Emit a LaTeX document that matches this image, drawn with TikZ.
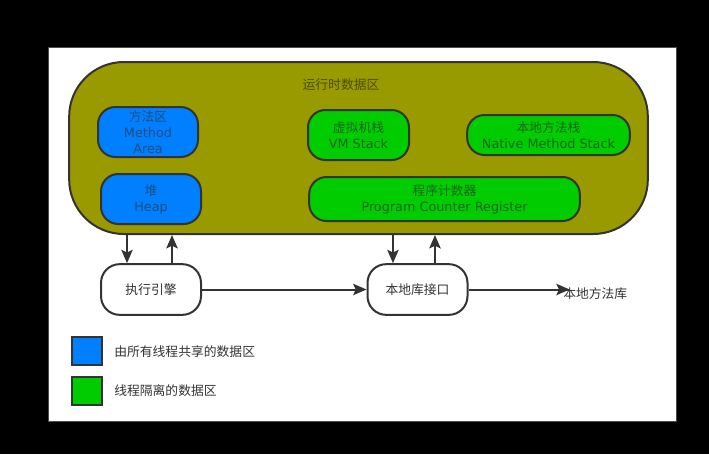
\documentclass[tikz,border=0pt]{standalone}
\usepackage{fontspec}
\setmainfont{DejaVu Sans}
\newfontfamily\cjk{Noto Sans CJK SC}
\usetikzlibrary{arrows.meta,positioning,calc}

\definecolor{areaolive}{HTML}{999900}
\definecolor{sharedblue}{HTML}{007FFF}
\definecolor{privgreen}{HTML}{00CC00}
\definecolor{linegray}{HTML}{333333}
\definecolor{txtblue}{HTML}{1F4D80}
\definecolor{txtgreen}{HTML}{1A661A}
\definecolor{txtolive}{HTML}{4D4D00}

\begin{document}
\begin{tikzpicture}[
    x=0.75pt, y=-0.75pt,
    font=\fontsize{9.6pt}{12pt}\selectfont,
    region/.style={rectangle, draw=linegray, line width=1.5pt, fill=areaolive, rounded corners=41pt, minimum width=434pt, minimum height=129pt},
    shared/.style={rectangle, draw=linegray, line width=1.5pt, fill=sharedblue, text=txtblue, align=center, rounded corners=13pt, inner sep=0pt, minimum width=75pt, minimum height=37.5pt},
    private/.style={rectangle, draw=linegray, line width=1.5pt, fill=privgreen, text=txtgreen, align=center, rounded corners=13pt, inner sep=0pt, minimum height=37.5pt},
    engine/.style={rectangle, draw=linegray, line width=1.5pt, fill=white, text=linegray, rounded corners=14pt, minimum width=75pt, minimum height=38pt},
    swatch/.style={rectangle, draw=linegray, line width=1.5pt, minimum width=22.5pt, minimum height=21pt},
    arrow/.style={-{Stealth[length=10pt,width=8.5pt,inset=2pt]}, draw=linegray, line width=1.5pt}
]
    % Canvas
    \fill[black] (0,0) rectangle (709,454);
    \draw[fill=white, draw=black!70, line width=0.6pt] (48,47) rectangle (676,421);

    % Runtime data area
    \node[region] (runtime) at (358.5,148) {};
    \node[text=txtolive] (title) at (341,85) {\cjk 运行时数据区};

    % Shared areas
    \node[shared] (method) at (148,132) {{\cjk 方法区}\\Method\\Area};
    \node[shared] (heap) at (151,199) {{\cjk 堆}\\Heap};

    % Thread private areas
    \node[private, minimum width=75.75pt] (vmstack) at (358.5,135) {{\cjk 虚拟机栈}\\VM Stack};
    \node[private, minimum width=122pt, minimum height=30pt] (nstack) at (548.5,135) {{\cjk 本地方法栈}\\Native Method Stack};
    \node[private, minimum width=203pt, minimum height=33pt] (pcr) at (444.5,199) {{\cjk 程序计数器}\\Program Counter Register};

    % Engine and native interface
    \node[engine] (exec) at (151,289.5) {\cjk 执行引擎};
    \node[engine] (nif) at (417.5,289.5) {\cjk 本地库接口};
    \node[anchor=west, inner sep=0pt, text=linegray] (nlib) at (563,294) {\cjk 本地方法库};

    % Legend
    \node[swatch, fill=sharedblue] (keyshared) at (87,351) {};
    \node[anchor=west, inner sep=0pt, text=linegray] (keysharedtxt) at (114,352) {\cjk 由所有线程共享的数据区};
    \node[swatch, fill=privgreen] (keypriv) at (87,391) {};
    \node[anchor=west, inner sep=0pt, text=linegray] (keyprivtxt) at (114,391) {\cjk 线程隔离的数据区};

    % Connections
    \draw[arrow] ([xshift=-18pt]exec.north |- runtime.south) -- ([xshift=-18pt]exec.north);
    \draw[arrow] ([xshift=15.75pt]exec.north) -- ([xshift=15.75pt]exec.north |- runtime.south);
    \draw[arrow] ([xshift=-18.4pt]nif.north |- runtime.south) -- ([xshift=-18.4pt]nif.north);
    \draw[arrow] ([xshift=13.1pt]nif.north) -- ([xshift=13.1pt]nif.north |- runtime.south);
    \draw[arrow] (exec.east) -- (nif.west);
    \draw[arrow] (nif.east) -- ([xshift=5pt]nlib.west |- nif.east);
\end{tikzpicture}
\end{document}
